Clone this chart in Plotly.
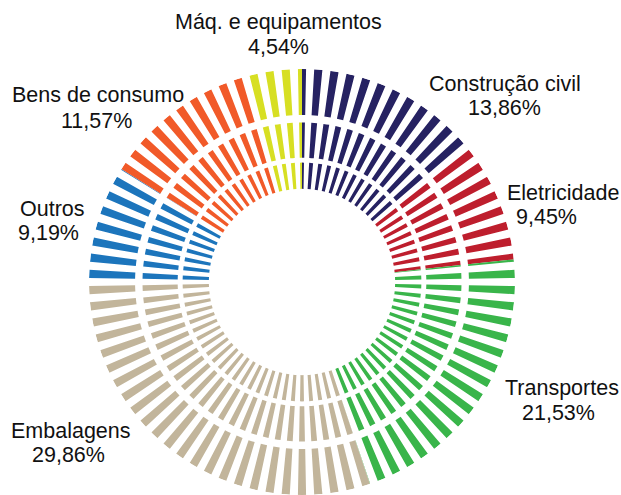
import plotly.graph_objects as go

# Share of consumption by sector (%), clockwise from 12 o'clock
sectors = ["Construção civil", "Eletricidade", "Transportes", "Embalagens",
           "Outros", "Bens de consumo", "Máq. e equipamentos"]
shares = [13.86, 9.45, 21.53, 29.86, 9.19, 11.57, 4.54]
colors = ["#262262", "#be1e2d", "#39b54a", "#c2b59b",
          "#1c75bc", "#f15a29", "#d7df23"]

# Label anchor points (pixels from top-left) for name and percentage lines
name_pos = [(505, 84), (563, 193), (562, 388), (71, 431), (52, 209), (98, 95), (278, 22)]
pct_pos = [(504, 108), (546, 217), (558, 413), (68, 455), (48, 233), (96, 121), (278, 47)]

W, H = 621, 495
N_SPOKES = 82
# (inner radius, outer radius, angular width of each spoke in degrees)
RINGS = [(94.0, 120.5, 1.9), (125.5, 161.0, 2.1), (168.5, 215.0, 2.2)]

# sector angular ranges in degrees
bounds = []
acc = 0.0
total = sum(shares)
for s in shares:
    a0 = acc / total * 360.0
    acc += s
    a1 = acc / total * 360.0
    bounds.append((a0, a1))

traces = {i: dict(theta=[], width=[], base=[], r=[]) for i in range(len(sectors))}
pitch = 360.0 / N_SPOKES
for k in range(N_SPOKES):
    c = k * pitch
    for r0, r1, w in RINGS:
        lo, hi = c - w / 2, c + w / 2
        for i, (a0, a1) in enumerate(bounds):
            for shift in (-360.0, 0.0, 360.0):
                s0, s1 = max(lo, a0 + shift), min(hi, a1 + shift)
                if s1 - s0 > 1e-6:
                    d = traces[i]
                    d["theta"].append((s0 + s1) / 2)
                    d["width"].append(s1 - s0)
                    d["base"].append(r0)
                    d["r"].append(r1 - r0)

fig = go.Figure()
for i, name in enumerate(sectors):
    d = traces[i]
    fig.add_trace(go.Barpolar(
        theta=d["theta"], width=d["width"], base=d["base"], r=d["r"],
        marker=dict(color=colors[i], line=dict(width=0)),
        name=name, hoverinfo="skip",
    ))

cx, cy, R = 302, 282, 213
fig.update_layout(
    width=W, height=H,
    margin=dict(l=0, r=0, t=0, b=0),
    paper_bgcolor="white",
    showlegend=False,
    polar=dict(
        domain=dict(x=[(cx - R) / W, (cx + R) / W], y=[(H - cy - R) / H, (H - cy + R) / H]),
        bgcolor="white",
        barmode="overlay",
        radialaxis=dict(visible=False, range=[0, 215]),
        angularaxis=dict(visible=False, rotation=90, direction="clockwise"),
    ),
)

font = dict(family="Liberation Sans, Arial, sans-serif", size=21.5, color="#111111")
for i, name in enumerate(sectors):
    pct = f"{shares[i]:.2f}".replace(".", ",") + "%"
    for txt, (px, py) in ((name, name_pos[i]), (pct, pct_pos[i])):
        fig.add_annotation(
            x=px / W, y=1 - py / H, xref="paper", yref="paper",
            text=txt, showarrow=False, xanchor="center", yanchor="middle",
            font=font,
        )

fig.write_html("out.html")
